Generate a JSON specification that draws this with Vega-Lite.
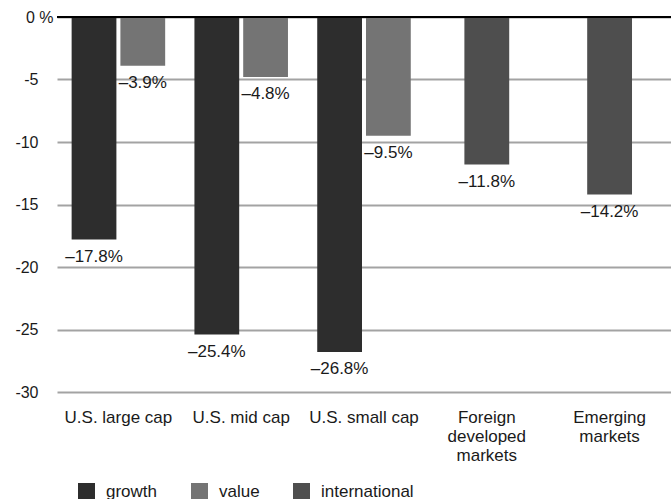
{
  "$schema": "https://vega.github.io/schema/vega-lite/v6.json",
  "width": 614,
  "height": 375,
  "autosize": "none",
  "padding": {"left": 57, "top": 17, "right": 0, "bottom": 107},
  "background": "white",
  "config": {
    "view": {"stroke": null},
    "font": "Liberation Sans",
    "axis": {"labelFont": "Liberation Sans", "labelColor": "#1a1a1a"},
    "legend": {"labelFont": "Liberation Sans"}
  },
  "data": {
    "values": [
      {"cat": "U.S. large cap", "series": "growth", "value": -17.8, "label": "–17.8%"},
      {"cat": "U.S. large cap", "series": "value", "value": -3.9, "label": "–3.9%"},
      {"cat": "U.S. mid cap", "series": "growth", "value": -25.4, "label": "–25.4%"},
      {"cat": "U.S. mid cap", "series": "value", "value": -4.8, "label": "–4.8%"},
      {"cat": "U.S. small cap", "series": "growth", "value": -26.8, "label": "–26.8%"},
      {"cat": "U.S. small cap", "series": "value", "value": -9.5, "label": "–9.5%"},
      {"cat": "Foreign|developed|markets", "series": "international", "value": -11.8, "label": "–11.8%"},
      {"cat": "Emerging|markets", "series": "international", "value": -14.2, "label": "–14.2%"}
    ]
  },
  "encoding": {
    "x": {
      "field": "cat", "type": "nominal", "sort": null,
      "scale": {"paddingInner": 0, "paddingOuter": 0},
      "axis": {"title": null, "labelAngle": 0, "domain": false, "ticks": false, "labelPadding": 17, "labelFontSize": 17, "labelLineHeight": 19, "labelExpr": "split(datum.label, '|')"}
    },
    "y": {
      "field": "value", "type": "quantitative",
      "scale": {"domain": [-30, 0], "nice": false},
      "axis": {"title": null, "values": [0, -5, -10, -15, -20, -25, -30], "domain": false, "ticks": false, "labelPadding": {"condition": {"test": "datum.value === 0", "value": 4}, "value": 19}, "labelFontSize": 16, "gridColor": "#a3a3a3", "gridWidth": 2, "gridOpacity": 1, "labelExpr": "datum.value === 0 ? '0 %' : toString(datum.value)"}
    }
  },
  "layer": [
    {
      "transform": [{"filter": "datum.series !== 'international'"}],
      "layer": [
        {
          "mark": {"type": "bar"},
          "encoding": {
            "xOffset": {"field": "series", "type": "nominal", "sort": ["growth", "value"], "scale": {"paddingInner": 0.082, "paddingOuter": 0.3}},
            "color": {"field": "series", "type": "nominal", "scale": {"domain": ["growth", "value", "international"], "range": ["#2d2d2d", "#747474", "#4e4e4e"]}, "legend": {"title": null, "orient": "none", "direction": "horizontal", "legendX": 21, "legendY": 466, "symbolType": "square", "symbolSize": 289, "symbolStrokeWidth": 0, "symbolOpacity": 1, "labelFontSize": 17, "labelColor": "#1a1a1a", "labelOffset": 11, "columnPadding": 33}}
          }
        },
        {
          "mark": {"type": "text", "baseline": "top", "dy": 9, "fontSize": 17, "color": "#1a1a1a"},
          "encoding": {
            "xOffset": {"field": "series", "type": "nominal", "sort": ["growth", "value"], "scale": {"paddingInner": 0.082, "paddingOuter": 0.3}},
            "text": {"field": "label"}
          }
        }
      ]
    },
    {
      "transform": [{"filter": "datum.series === 'international'"}],
      "layer": [
        {
          "mark": {"type": "bar", "width": {"band": 0.365}},
          "encoding": {
            "color": {"field": "series", "type": "nominal"}
          }
        },
        {
          "mark": {"type": "text", "baseline": "top", "dy": 9, "fontSize": 17, "color": "#1a1a1a"},
          "encoding": {"text": {"field": "label"}}
        }
      ]
    },
    {
      "mark": {"type": "rule", "color": "#000000", "strokeWidth": 2},
      "encoding": {"y": {"datum": 0}, "x": null}
    }
  ]
}
